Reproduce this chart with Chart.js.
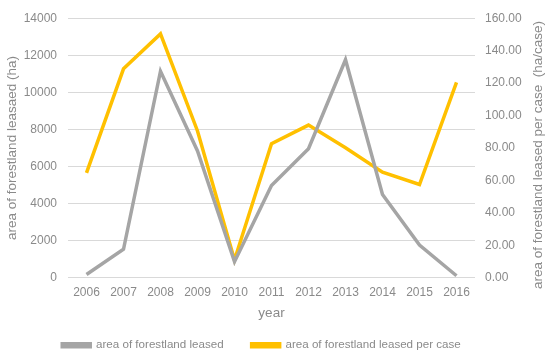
<!DOCTYPE html>
<html>
<head>
<meta charset="utf-8">
<script src="https://cdn.jsdelivr.net/npm/chart.js@4/dist/chart.umd.min.js"></script>
<style>
  html, body { margin: 0; padding: 0; background: #fff; }
  #wrap { width: 550px; height: 359px; }
</style>
</head>
<body>
<div id="wrap"><canvas id="chart"></canvas></div>
<script>
// data
const years = ['2006', '2007', '2008', '2009', '2010', '2011', '2012', '2013', '2014', '2015', '2016'];
const areaLeased = [180, 1540, 11140, 6840, 870, 4980, 6960, 11760, 4490, 1770, 110];
const areaPerCase = [64.7, 128.8, 150.3, 90.5, 11, 82.7, 94.1, 80.2, 65.1, 57.5, 120.5];

const textGray = '#8a8a8a';
const family = "'Liberation Sans', Arial, sans-serif";
const font = { family: family, size: 12 };
const titleFont = { family: family, size: 13.5 };
const rightTitle = 'area of forestland leased per case  (ha/case)';

// right axis title, rotated the same way as the left one
const rightTitlePlugin = {
    id: 'rightTitle',
    afterDraw(chart) {
        const c = chart.ctx;
        const area = chart.chartArea;
        c.save();
        c.translate(538, (area.top + area.bottom) / 2 + 7);
        c.rotate(-Math.PI / 2);
        c.font = titleFont.size + 'px ' + family;
        c.fillStyle = textGray;
        c.textAlign = 'center';
        c.textBaseline = 'middle';
        c.fillText(rightTitle, 0, 0);
        c.restore();
    }
};

const ctx = document.getElementById('chart');
new Chart(ctx, {
    type: 'line',
    data: {
        labels: years,
        datasets: [
            {
                label: 'area of forestland leased',
                data: areaLeased,
                borderColor: '#A5A5A5',
                backgroundColor: '#A5A5A5',
                borderWidth: 3.5,
                pointRadius: 0,
                tension: 0,
                yAxisID: 'y'
            },
            {
                label: 'area of forestland leased per case',
                data: areaPerCase,
                borderColor: '#FFC000',
                backgroundColor: '#FFC000',
                borderWidth: 3.5,
                pointRadius: 0,
                tension: 0,
                yAxisID: 'y1'
            }
        ]
    },
    options: {
        responsive: true,
        maintainAspectRatio: false,
        animation: false,
        layout: { padding: { top: 13, left: 0, right: 27, bottom: -2 } },
        plugins: {
            legend: {
                position: 'bottom',
                labels: {
                    color: textGray,
                    font: { family: family, size: 11.6 },
                    boxWidth: 28,
                    boxHeight: 3,
                    padding: 28
                }
            },
            tooltip: { enabled: false }
        },
        scales: {
            x: {
                offset: true,
                grid: { display: false, drawTicks: false },
                border: { display: false },
                ticks: { color: textGray, font: font, maxRotation: 0, padding: 8 },
                title: { display: true, text: 'year', color: textGray, font: titleFont, padding: { top: -3, bottom: -10 } }
            },
            y: {
                position: 'left',
                min: 0,
                max: 14000,
                afterFit: function (scale) { scale.width = 68; },
                ticks: {
                    stepSize: 2000,
                    color: textGray,
                    font: font,
                    padding: 11,
                    callback: function (value) {
                        return String(value);
                    }
                },
                grid: { color: '#d9d9d9', lineWidth: 1, drawTicks: false },
                border: { display: false },
                title: { display: true, text: 'area of forestland leasaed (ha)', color: textGray, font: titleFont, padding: { top: 4, bottom: 4 } }
            },
            y1: {
                position: 'right',
                min: 0,
                max: 160,
                afterFit: function (scale) { scale.width = 48; },
                ticks: {
                    stepSize: 20,
                    color: textGray,
                    font: font,
                    padding: 10,
                    callback: function (value) {
                        return value.toFixed(2);
                    }
                },
                grid: { display: false, drawTicks: false },
                border: { display: false }
            }
        }
    },
    plugins: [rightTitlePlugin]
});
</script>
</body>
</html>
